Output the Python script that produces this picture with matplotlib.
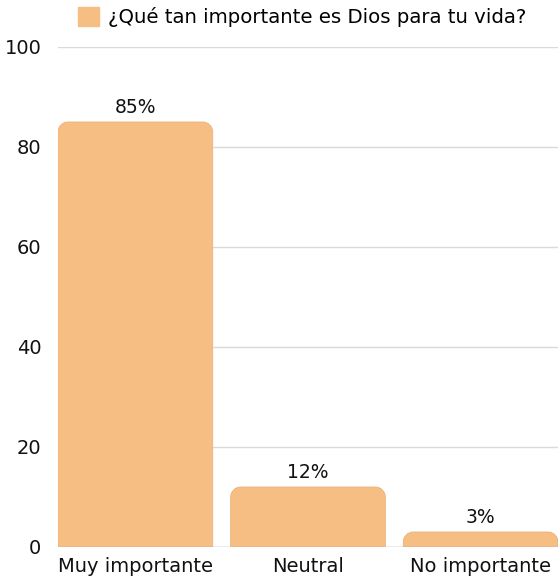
import matplotlib
matplotlib.use("Agg")
import matplotlib.pyplot as plt
from matplotlib.path import Path
from matplotlib.patches import PathPatch, Patch

categories = ["Muy importante", "Neutral", "No importante"]
values = [85, 12, 3]
value_labels = ["85%", "12%", "3%"]
series_name = "¿Qué tan importante es Dios para tu vida?"
yticks = [0, 20, 40, 60, 80, 100]

FONT = ['DejaVu Sans']
plt.rcParams['font.family'] = FONT
color = "#F7BE83"
W, H = 558, 580
fig = plt.figure(figsize=(W / 100, H / 100), dpi=100)
ax = fig.add_axes([58 / W, 33 / H, 500 / W, 500 / H])
bw = 155 / 173
ax.set_xlim(-bw / 2, 2 + bw / 2)
ax.set_ylim(0, 100)

px_x = 500 / (2 + bw)
px_y = 500 / 100.0
r = 10
rx, ry = r / px_x, r / px_y
k = 0.5523
for i, v in enumerate(values):
    x0, x1 = i - bw / 2, i + bw / 2
    verts = [
        (x0, 0), (x0, v - ry),
        (x0, v - ry + k * ry), (x0 + rx - k * rx, v), (x0 + rx, v),
        (x1 - rx, v),
        (x1 - rx + k * rx, v), (x1, v - ry + k * ry), (x1, v - ry),
        (x1, 0), (x0, 0),
    ]
    codes = [Path.MOVETO, Path.LINETO,
             Path.CURVE4, Path.CURVE4, Path.CURVE4,
             Path.LINETO,
             Path.CURVE4, Path.CURVE4, Path.CURVE4,
             Path.LINETO, Path.CLOSEPOLY]
    ax.add_patch(PathPatch(Path(verts, codes), facecolor=color,
                           edgecolor="#E9B27C", linewidth=0.6, zorder=3))
    ax.text(i, v + 1.0, value_labels[i], ha="center", va="bottom",
            fontsize=13.5, fontweight="medium", color="#111111")

ax.set_yticks(yticks)
ax.set_yticklabels([str(t) for t in yticks], fontsize=14)
ax.set_xticks(range(len(categories)))
ax.set_xticklabels(categories, fontsize=14)
ax.tick_params(axis="both", length=0, colors="#111111")
ax.tick_params(axis="y", pad=12)
ax.tick_params(axis="x", pad=7)
ax.yaxis.grid(True, color="#D9D9D9", linewidth=1, zorder=0)
ax.set_axisbelow(True)
for s in ax.spines.values():
    s.set_visible(False)
ax.axhline(0, color="#BBBBBB", linewidth=1, zorder=4)

fig.legend(handles=[Patch(facecolor=color, edgecolor=color)],
           labels=[series_name], loc="center", bbox_to_anchor=(302 / W, 1 - 17 / H),
           frameon=False, handlelength=1.1, handleheight=1.1,
           handletextpad=0.45, prop={'family': FONT, 'size': 14.2})

fig.savefig("out.png", dpi=100)
